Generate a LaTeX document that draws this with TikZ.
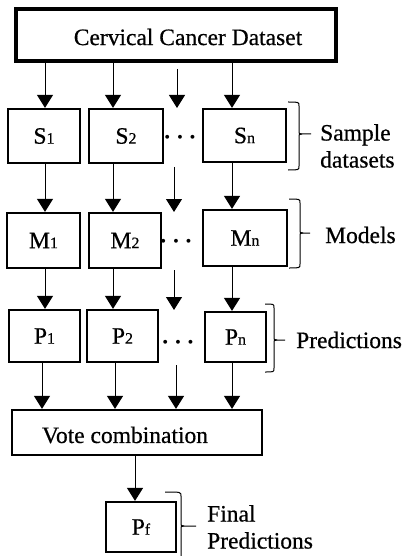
\documentclass[tikz,border=0pt]{standalone}
\usepackage{fontspec}
\setmainfont{Liberation Serif}[FakeBold=0.6]
\usetikzlibrary{arrows.meta}
\newcommand{\sbs}[1]{{\fontsize{16}{16}\selectfont #1}}
% right brace: xleft, xvert, xtip, ytop, ytip, ybot
\newcommand{\rbr}[6]{%
  \draw[brc] (#1,#4) .. controls (#2,#4) .. (#2,{#4-4}) -- (#2,{#5+4})
     .. controls (#2,#5) .. ({#2+3},#5) -- (#3,#5);
  \draw[brc] ({#2+3},#5) .. controls (#2,#5) .. (#2,{#5-4}) -- (#2,{#6+4})
     .. controls (#2,#6) .. (#1,#6);}
\newcommand{\hdots}{{\boldmath$\cdots$}}
\begin{document}
\begin{tikzpicture}[x=1pt,y=1pt,
  every node/.style={font=\fontsize{23.5}{27}\selectfont},
  box/.style={draw,line width=2.2pt,rectangle,inner sep=0pt},
  arr/.style={line width=1pt,-{Triangle[length=13pt,width=16pt]}},
  brc/.style={line width=1pt},
  lbl/.style={inner sep=0pt,align=left}]
\useasboundingbox (0,0) rectangle (403,-556);
% top box
\node[box,line width=4pt,minimum width=320pt,minimum height=52pt] (top) at (176,-35) {};
\node[inner sep=0pt] (toptxt) at (188,-37) {Cervical Cancer Dataset};
% S row
\node[box,minimum width=72pt,minimum height=54pt] (s1) at (44,-136) {S\sbs{1}};
\node[box,minimum width=74pt,minimum height=54pt] (s2) at (126,-136) {S\sbs{2}};
\node[box,minimum width=83pt,minimum height=53pt] (sn) at (244.5,-135.5) {S\sbs{n}};
\node[inner sep=0pt] (sd) at (180,-138) {\hdots};
% M row
\node[box,minimum width=73pt,minimum height=55pt] (m1) at (43.5,-240.5) {M\sbs{1}};
\node[box,minimum width=72pt,minimum height=55pt] (m2) at (125,-240.5) {M\sbs{2}};
\node[box,minimum width=84pt,minimum height=56pt] (mn) at (245,-238) {M\sbs{n}};
\node[inner sep=0pt] (md) at (176,-242) {\hdots};
% P row
\node[box,minimum width=71pt,minimum height=52pt] (p1) at (44.5,-336) {P\sbs{1}};
\node[box,minimum width=71pt,minimum height=52pt] (p2) at (122.5,-336) {P\sbs{2}};
\node[box,minimum width=61pt,minimum height=50pt] (pn) at (235.5,-337) {P\sbs{n}};
\node[inner sep=0pt] (pd) at (178,-343) {\hdots};
% vote
\node[box,minimum width=250pt,minimum height=45pt] (vote) at (137,-432.5) {};
\node[inner sep=0pt] (votetxt) at (125,-435) {Vote combination};
% final
\node[box,minimum width=70pt,minimum height=50pt] (pf) at (141,-527) {P\sbs{f}};
% columns
\coordinate (ca) at (45,0);
\coordinate (cb) at (113,0);
\coordinate (cc) at (176,0);
\coordinate (cd) at (232,0);
\coordinate (ce) at (42,0);
\coordinate (cf) at (115,0);
\coordinate (cg) at (135,0);
% free ends of middle column
\coordinate (f1) at (177,-69);
\coordinate (f1e) at (177,-108);
\coordinate (f2) at (174,-167);
\coordinate (f2e) at (174,-212);
\coordinate (f3) at (174,-270);
\coordinate (f3e) at (174,-310);
\coordinate (f4) at (176,-365);
% row 1
\draw[arr] (top.south -| ca) -- (s1.north -| ca);
\draw[arr] (top.south -| cb) -- (s2.north -| cb);
\draw[arr] (f1) -- (f1e);
\draw[arr] (top.south -| cd) -- (sn.north -| cd);
% row 2
\draw[arr] (s1.south -| ca) -- (m1.north -| ca);
\draw[arr] (s2.south -| cb) -- (m2.north -| cb);
\draw[arr] (f2) -- (f2e);
\draw[arr] (sn.south -| cd) -- (mn.north -| cd);
% row 3
\draw[arr] (m1.south -| ca) -- (p1.north -| ca);
\draw[arr] (m2.south -| cb) -- (p2.north -| cb);
\draw[arr] (f3) -- (f3e);
\draw[arr] (mn.south -| cd) -- (pn.north -| cd);
% row 4
\draw[arr] (p1.south -| ce) -- (vote.north -| ce);
\draw[arr] (p2.south -| cf) -- (vote.north -| cf);
\draw[arr] (f4) -- (vote.north -| cc);
\draw[arr] (pn.south -| cd) -- (vote.north -| cd);
% row 5
\draw[arr] (vote.south -| cg) -- (pf.north -| cg);
% braces
\rbr{288}{299}{311}{-102}{-134}{-170}
\rbr{289}{300}{310}{-199}{-233}{-268}
\rbr{265}{274}{285}{-304}{-340}{-372}
\rbr{165}{181}{196}{-492}{-526}{-562}
% labels
\node[lbl,anchor=west] (l1) at (320,-146) {Sample\\datasets};
\node[lbl,anchor=west] (l2) at (325,-235) {Models};
\node[lbl,anchor=west] (l3) at (296,-340) {Predictions};
\node[lbl,anchor=west] (l4) at (207,-527) {Final\\Predictions};
\end{tikzpicture}
\end{document}
